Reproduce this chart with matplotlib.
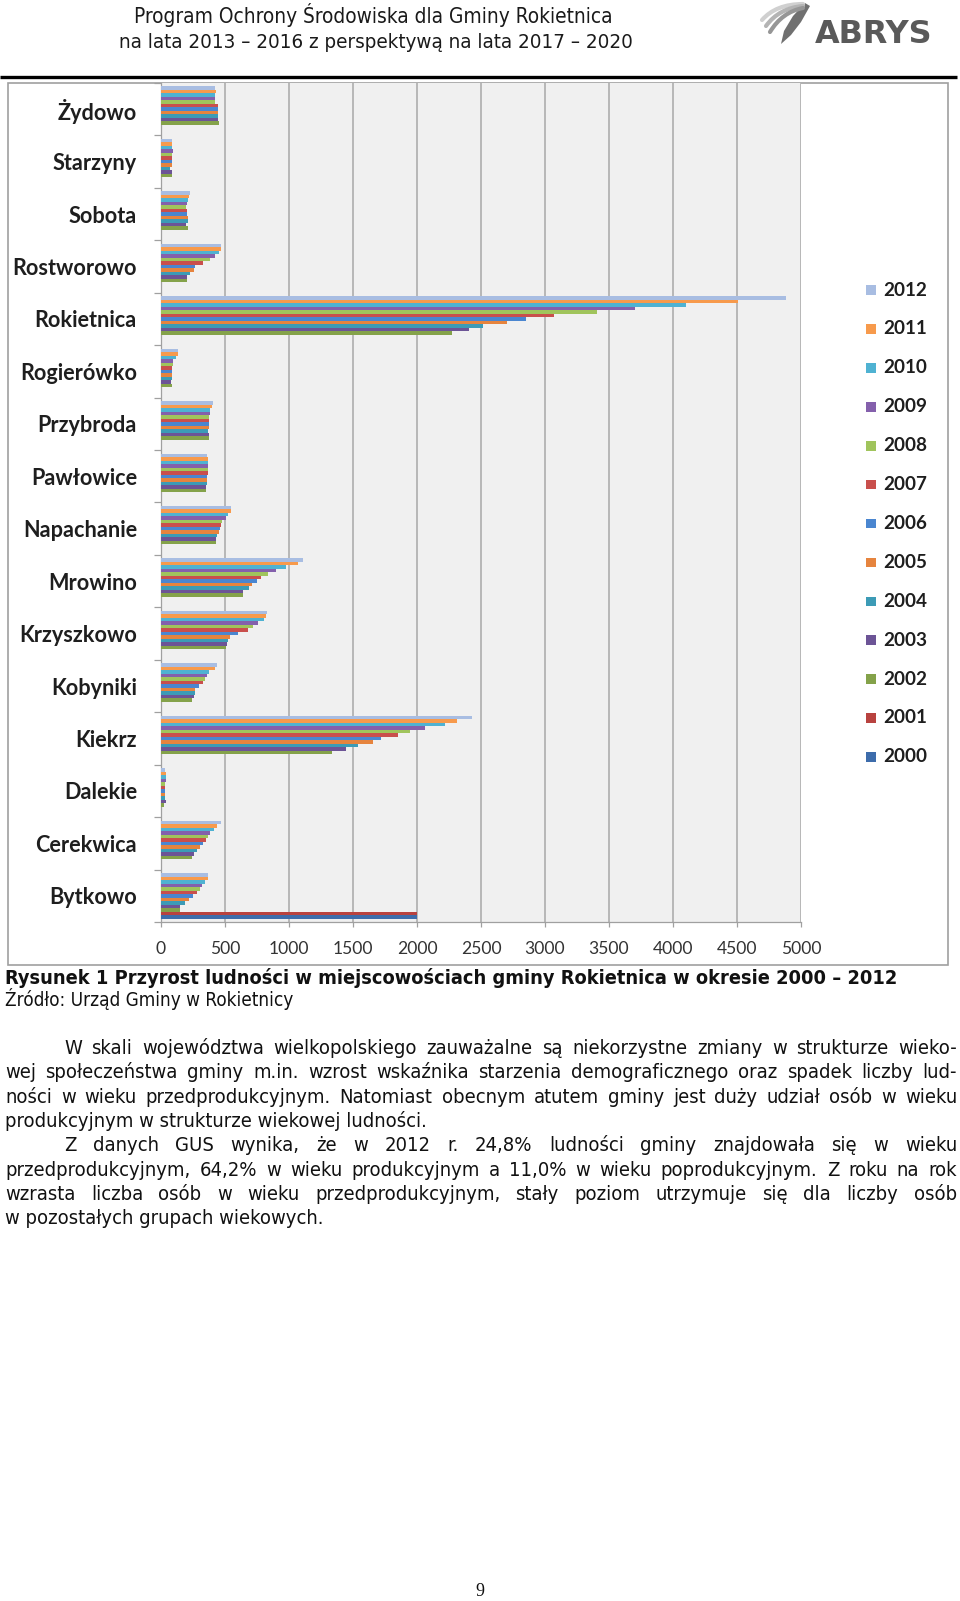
import matplotlib
matplotlib.use("Agg")
import matplotlib.pyplot as plt
from matplotlib.patches import Rectangle, PathPatch, Polygon
from matplotlib.path import Path
import numpy as np

W, H = 960, 1601

# ---------------- data ----------------
categories = ["Bytkowo", "Cerekwica", "Dalekie", "Kiekrz", "Kobyniki", "Krzyszkowo",
              "Mrowino", "Napachanie", "Pawłowice", "Przybroda", "Rogierówko",
              "Rokietnica", "Rostworowo", "Sobota", "Starzyny", "Żydowo"]
years = [2000, 2001, 2002, 2003, 2004, 2005, 2006, 2007, 2008, 2009, 2010, 2011, 2012]

v2000 = [2000, 0, 0, 0, 0, 0, 0, 0, 0, 0, 0, 0, 0, 0, 0, 0]
v2001 = [2001, 0, 0, 0, 0, 0, 0, 0, 0, 0, 0, 0, 0, 0, 0, 0]
v2002 = [146, 243, 22, 1333, 243, 505, 643, 426, 353, 376, 86, 2274, 204, 212, 84, 450]
v2003 = [146, 256, 36, 1446, 256, 512, 643, 431, 353, 374, 82, 2403, 204, 199, 84, 444]
v2004 = [186, 282, 34, 1537, 264, 525, 688, 439, 361, 369, 84, 2512, 225, 212, 73, 444]
v2005 = [222, 308, 34, 1660, 269, 536, 708, 452, 361, 374, 86, 2703, 256, 212, 84, 444]
v2006 = [251, 327, 34, 1720, 295, 601, 753, 458, 361, 374, 89, 2849, 269, 204, 84, 444]
v2007 = [282, 353, 35, 1851, 327, 682, 779, 471, 366, 376, 89, 3073, 327, 204, 84, 444]
v2008 = [303, 366, 35, 1942, 340, 719, 837, 478, 369, 376, 94, 3410, 382, 199, 84, 421]
v2009 = [322, 382, 36, 2060, 356, 758, 897, 505, 369, 382, 95, 3701, 418, 204, 92, 421]
v2010 = [340, 413, 36, 2222, 374, 805, 975, 523, 369, 382, 120, 4098, 452, 209, 84, 421]
v2011 = [366, 439, 40, 2314, 418, 818, 1067, 549, 369, 395, 131, 4511, 465, 222, 84, 429]
v2012 = [366, 471, 35, 2426, 439, 831, 1111, 544, 361, 405, 135, 4881, 471, 225, 84, 421]

series = [v2000, v2001, v2002, v2003, v2004, v2005, v2006,
          v2007, v2008, v2009, v2010, v2011, v2012]
colors = ["#3d6cab", "#b8423f", "#84a24a", "#6c5496", "#3c9bb6", "#e6843e",
          "#4a86d0", "#c94f4c", "#a0c45c", "#8460ac", "#4fb2d2", "#f79a4c", "#a8bde2"]

xticks = [0, 500, 1000, 1500, 2000, 2500, 3000, 3500, 4000, 4500, 5000]

header1 = "Program Ochrony Środowiska dla Gminy Rokietnica"
header2 = "na lata 2013 – 2016 z perspektywą na lata 2017 – 2020"
caption = "Rysunek 1 Przyrost ludności w miejscowościach gminy Rokietnica w okresie 2000 – 2012"
source = "Źródło: Urząd Gminy w Rokietnicy"
para_lines = [
    ("W skali województwa wielkopolskiego zauważalne są niekorzystne zmiany w strukturze wieko-", True, True),
    ("wej społeczeństwa gminy m.in. wzrost wskaźnika starzenia demograficznego oraz spadek liczby lud-", False, True),
    ("ności w wieku przedprodukcyjnym. Natomiast obecnym atutem gminy jest duży udział osób w wieku", False, True),
    ("produkcyjnym w strukturze wiekowej ludności.", False, False),
    ("Z danych GUS wynika, że w 2012 r. 24,8% ludności gminy znajdowała się w wieku", True, True),
    ("przedprodukcyjnym, 64,2% w wieku produkcyjnym a 11,0% w wieku poprodukcyjnym. Z roku na rok", False, True),
    ("wzrasta liczba osób w wieku przedprodukcyjnym, stały poziom utrzymuje się dla liczby osób", False, True),
    ("w pozostałych grupach wiekowych.", False, False),
]

NARROW = dict(family=['DejaVu Sans'], stretch='condensed')
CHART = ['Lato', 'DejaVu Sans']
TXT = '#111111'

fig = plt.figure(figsize=(W / 100, H / 100), dpi=100)
pg = fig.add_axes([0, 0, 1, 1])
pg.set_xlim(0, W)
pg.set_ylim(H, 0)
pg.axis('off')
r = fig.canvas.get_renderer()


def wid(t):
    return t.get_window_extent(renderer=r).width


def fit_size(s, target, **kw):
    t = pg.text(0, 0, s, fontsize=10, **kw)
    w = wid(t)
    t.remove()
    return 10 * target / w


def fit_text(s, x0, x1, yb, ha='left', **kw):
    size = fit_size(s, x1 - x0, **kw)
    x = x0 if ha == 'left' else (x0 + x1) / 2
    return pg.text(x, yb, s, fontsize=size, va='baseline', ha=ha, **kw)


# ---------------- header ----------------
fit_text(header1, 133, 613, 23, ha='center', color='#1a1a1a', **NARROW)
fit_text(header2, 118, 633, 47.5, ha='center', color='#1a1a1a', **NARROW)

# logo
fit_text("ABRYS", 815, 933, 43, family=['DejaVu Sans'], weight='bold', color='#5a5a5a')
pg.add_patch(Polygon([(805, 3), (810, 6), (801, 22), (791, 35), (781, 44), (784, 31), (793, 16)],
                     closed=True, fc='#707070', ec='none'))
for k, (c, lw) in enumerate([('#d0d0d0', 3.0), ('#b4b4b4', 3.0), ('#969696', 3.0)]):
    p0 = (762 + 4 * k, 20 + 6 * k)
    p1 = (776 + 3 * k, 4 + 4 * k)
    p2 = (803, 4 + 2 * k)
    path = Path([p0, p1, p2], [Path.MOVETO, Path.CURVE3, Path.CURVE3])
    pg.add_patch(PathPatch(path, fc='none', ec=c, lw=lw, capstyle='round'))

# thick rule
pg.plot([0, 957], [76.7, 76.7], color='black', lw=2.4, solid_capstyle='butt')

# chart border
pg.add_patch(Rectangle((7.5, 82.7), 948 - 7.5, 965 - 82.7, fill=False, ec='#a0a0a0', lw=1.2))

# ---------------- chart ----------------
ax = fig.add_axes([161 / W, 1 - 922 / H, 640 / W, (922 - 83) / H])
ax.set_facecolor('#f0f0f0')
ax.set_axisbelow(True)
nser = len(series)
bh = 1 / 15
for j, (vals, c) in enumerate(zip(series, colors)):
    ys = [i - (nser * bh) / 2 + (j + 0.5) * bh for i in range(len(categories))]
    ax.barh(ys, vals, height=bh, color=c, lw=0, zorder=3)

ax.set_xlim(0, 5000)
ax.set_ylim(-0.5, len(categories) - 0.5)
ax.grid(axis='x', color='#a8a8a8', lw=1.1, zorder=1)
ax.grid(axis='y', visible=False)

lab_size = fit_size("Rostworowo", 124, family=CHART, weight='bold')
tick_size = fit_size("1000", 40.5, family=CHART)
leg_size = fit_size("2012", 44, family=CHART, weight='bold')

ax.set_xticks(xticks)
ax.set_xticklabels([str(v) for v in xticks], family=CHART, fontsize=tick_size, color='#333333')
ax.set_yticks(range(len(categories)))
ax.set_yticklabels(categories, family=CHART, fontsize=lab_size, weight='bold', color='#1e1e1e')
ax.set_yticks(np.arange(-0.5, len(categories), 1), minor=True)
ax.tick_params(axis='y', which='major', length=0, pad=24 * 0.72)
ax.tick_params(axis='y', which='minor', length=7 * 0.72, color='#a0a0a0', width=0.9)
ax.tick_params(axis='x', which='major', length=5 * 0.72, color='#a0a0a0', width=0.9, pad=14 * 0.72)
for s in ['top', 'right']:
    ax.spines[s].set_visible(False)
for s in ['left', 'bottom']:
    ax.spines[s].set_color('#a0a0a0')
    ax.spines[s].set_linewidth(0.9)

# legend (2012 at top)
for k, (yr, c) in enumerate(zip(years[::-1], colors[::-1])):
    yc = 290 + 38.9 * k
    pg.add_patch(Rectangle((866, yc - 4.6), 9.5, 9.5, fc=c, ec='none'))
    pg.text(883, yc, str(yr), fontsize=leg_size, family=CHART, weight='bold',
            color='#1e1e1e', va='center', ha='left')

# ---------------- caption ----------------
fit_text(caption, 5, 895, 984, weight='bold', color=TXT, **NARROW)
fit_text(source, 5, 293, 1006, color=TXT, **NARROW)

# ---------------- paragraph ----------------
psize = fit_size(para_lines[3][0], 429 - 5, **NARROW)
x_left, x_right, indent = 5, 957, 64
for i, (line, ind, just) in enumerate(para_lines):
    yb = 1054 + 24.3 * i
    x0 = x_left + (indent - x_left if ind else 0)
    if not just:
        pg.text(x0, yb, line, fontsize=psize, color=TXT, va='baseline', **NARROW)
        continue
    words = line.split(' ')
    ts = [pg.text(0, yb, w, fontsize=psize, color=TXT, va='baseline', **NARROW) for w in words]
    ws = [wid(t) for t in ts]
    gap = (x_right - x0 - sum(ws)) / (len(ws) - 1)
    x = x0
    for t, w in zip(ts, ws):
        t.set_x(x)
        x += w + gap

# page number
pg.text(480, 1596, "9", fontsize=13, family=['Liberation Serif', 'DejaVu Serif'],
        color='#111111', ha='center', va='baseline')

fig.savefig("out.png", dpi=100)
